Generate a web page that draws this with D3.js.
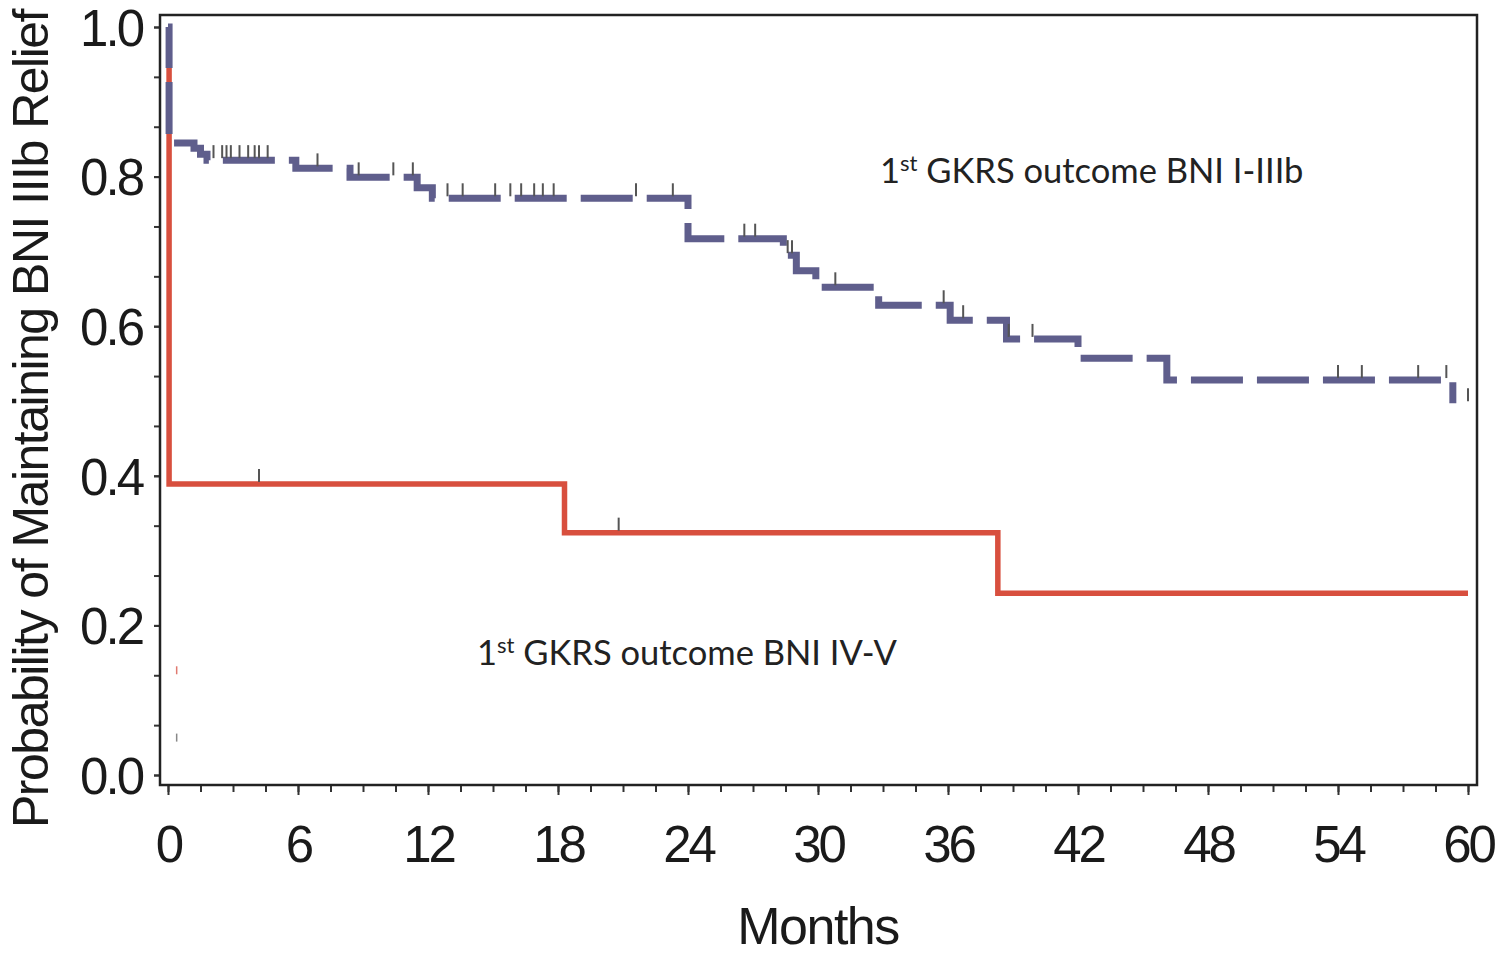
<!DOCTYPE html>
<html>
<head>
<meta charset="utf-8">
<script src="https://cdn.jsdelivr.net/npm/d3@7/dist/d3.min.js"></script>
<style>
  body { margin: 0; background: #fff; }
  svg { display: block; }
</style>
</head>
<body>
<svg id="chart" width="1500" height="954"></svg>
<script>
// 1st GKRS outcome BNI I-IIIb (dashed curve)
let goodTimes = [0, 0.05, 1.2, 1.5, 1.8, 5.9, 8.4, 11.5, 12.2, 24.0, 28.4, 29.0, 29.9, 32.8, 36.1, 38.7, 42.0, 46.1, 59.3]
let goodSurv = [1, 0.845, 0.838, 0.830, 0.822, 0.811, 0.799, 0.785, 0.771, 0.717, 0.695, 0.674, 0.652, 0.628, 0.608, 0.583, 0.557, 0.528, 0.497]
let goodCensor = [2.1, 2.5, 2.7, 2.9, 3.3, 3.7, 4.0, 4.2, 4.6, 6.9, 8.8, 10.4, 11.3, 12.9, 13.6, 15.1, 15.8, 16.3, 16.9, 17.3, 17.8, 21.6, 23.3, 26.6, 27.1, 28.6, 28.8, 30.8, 35.8, 36.7, 38.8, 39.9, 54.0, 55.1, 57.7, 59.0, 60]

// 1st GKRS outcome BNI IV-V (solid red curve)
let poorTimes = [0, 0.05, 18.3, 38.3, 60]
let poorSurv = [1, 0.389, 0.324, 0.243, 0.243]
let poorCensor = [4.2, 20.8]

// two stray marks near the y axis
let strayTime = [0.4, 0.4]
let straySurv = [0.14, 0.05]
let strayColor = ['#e07a70', '#888']

let xTicks = [0, 6, 12, 18, 24, 30, 36, 42, 48, 54, 60]
let yTicks = [0, 0.2, 0.4, 0.6, 0.8, 1.0]

const frame = { left: 160, right: 1477, top: 15, bottom: 785 }
const svg = d3.select('#chart')

const x = d3.scaleLinear().domain([0, 60]).range([168, 1468])
const y = d3.scaleLinear().domain([0, 1]).range([775, 27])

// minor ticks
const xMinor = d3.range(0, 60.01, 1.5)
const yMinor = d3.range(0, 16).map(i => i * 0.2 / 3)

const styleAxis = g => {
    g.select('.domain').remove()
    g.selectAll('.tick line').attr('stroke', '#333').attr('stroke-width', 2)
    g.selectAll('text')
        .attr('fill', '#1a1a1a')
        .style('font-family', '"Liberation Sans", Arial, sans-serif')
        .style('font-size', '51px')
        .style('letter-spacing', '-3px')
}

svg.append('g')
    .attr('transform', `translate(0, ${frame.bottom})`)
    .call(d3.axisBottom(x).tickValues(xMinor).tickSize(7).tickFormat(''))
    .call(styleAxis)

svg.append('g')
    .attr('transform', `translate(0, ${frame.bottom})`)
    .call(d3.axisBottom(x).tickValues(xTicks).tickSize(10).tickPadding(31).tickFormat(d3.format('d')))
    .call(styleAxis)

svg.append('g')
    .attr('transform', `translate(${frame.left}, 0)`)
    .call(d3.axisLeft(y).tickValues(yMinor).tickSize(6).tickFormat(''))
    .call(styleAxis)

svg.append('g')
    .attr('transform', `translate(${frame.left}, 0)`)
    .call(d3.axisLeft(y).tickValues(yTicks).tickSize(6).tickPadding(12).tickFormat(d3.format('.1f')))
    .call(styleAxis)
    .selectAll('text').attr('dy', '0.36em')

// frame
svg.append('rect')
    .attr('x', frame.left)
    .attr('y', frame.top)
    .attr('width', frame.right - frame.left)
    .attr('height', frame.bottom - frame.top)
    .attr('fill', 'none')
    .attr('stroke', '#222')
    .attr('stroke-width', 2.5)

const stepLine = d3.line()
    .x(d => x(d.t))
    .y(d => y(d.s))
    .curve(d3.curveStepAfter)

const toPoints = (times, surv) => times.map((t, i) => ({ t: t, s: surv[i] }))

const valueAt = (times, surv, t) => surv[Math.max(0, d3.bisectRight(times, t) - 1)]

// red curve
svg.append('path')
    .datum(toPoints(poorTimes, poorSurv))
    .attr('d', stepLine)
    .attr('fill', 'none')
    .attr('stroke', '#d84f3e')
    .attr('stroke-width', 5.5)

// dashed curve
svg.append('path')
    .datum(toPoints(goodTimes, goodSurv))
    .attr('d', stepLine)
    .attr('fill', 'none')
    .attr('stroke', '#5f5e8c')
    .attr('stroke-width', 7)
    .attr('stroke-dasharray', '52,14')
    .attr('stroke-dashoffset', 10)

// censor marks
const drawCensor = (times, surv, censor) => {
    svg.append('g')
        .selectAll('line')
        .data(censor)
        .enter()
        .append('line')
        .attr('x1', t => x(t))
        .attr('x2', t => x(t))
        .attr('y1', t => y(valueAt(times, surv, t)) - 2)
        .attr('y2', t => y(valueAt(times, surv, t)) - 15)
        .attr('stroke', '#555')
        .attr('stroke-width', 2)
}
drawCensor(goodTimes, goodSurv, goodCensor)
drawCensor(poorTimes, poorSurv, poorCensor)

svg.append('g')
    .selectAll('line')
    .data(strayTime)
    .enter()
    .append('line')
    .attr('x1', t => x(t))
    .attr('x2', t => x(t))
    .attr('y1', (t, i) => y(straySurv[i]) - 4)
    .attr('y2', (t, i) => y(straySurv[i]) + 4)
    .attr('stroke', (t, i) => strayColor[i])
    .attr('stroke-width', 1.5)

// curve labels
const addLabel = (px, py, rest) => {
    let txt = svg.append('text')
        .attr('x', px)
        .attr('y', py)
        .attr('fill', '#222')
        .style('font-family', 'Lato, "Open Sans", sans-serif')
        .style('font-size', '34.5px')
    txt.append('tspan').text('1')
    txt.append('tspan').text('st').attr('dy', -12).style('font-size', '22px')
    txt.append('tspan').text(' ' + rest).attr('dy', 12)
}
addLabel(880, 183, 'GKRS outcome BNI I-IIIb')
addLabel(477, 665, 'GKRS outcome BNI IV-V')

// axis titles
svg.append('text')
    .attr('x', x(30))
    .attr('y', 944)
    .attr('text-anchor', 'middle')
    .attr('fill', '#1a1a1a')
    .style('font-family', '"Liberation Sans", Arial, sans-serif')
    .style('font-size', '52px')
    .style('letter-spacing', '-1.5px')
    .text('Months')

svg.append('text')
    .attr('transform', 'translate(48, 419) rotate(-90)')
    .attr('text-anchor', 'middle')
    .attr('fill', '#1a1a1a')
    .style('font-family', '"Liberation Sans", Arial, sans-serif')
    .style('font-size', '50px')
    .style('letter-spacing', '-1.5px')
    .text('Probability of Maintaining BNI IIIb Relief')
</script>
</body>
</html>
